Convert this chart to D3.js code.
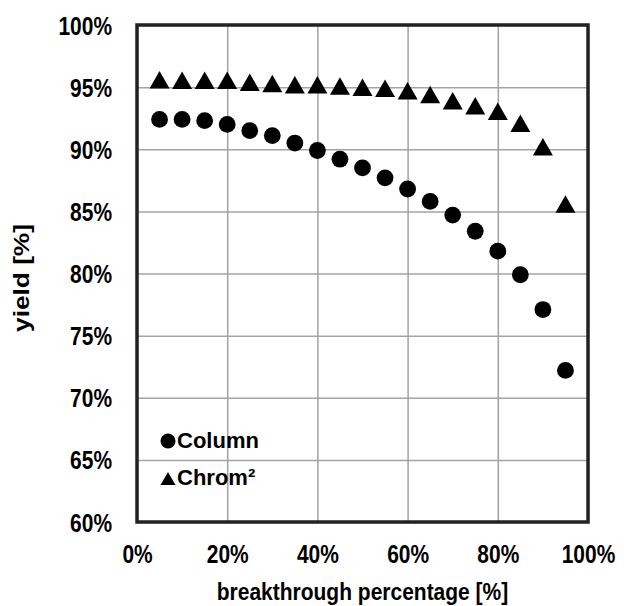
<!DOCTYPE html>
<html>
<head>
<meta charset="utf-8">
<script src="https://cdn.jsdelivr.net/npm/d3@7"></script>
<style>
  body { margin: 0; background: #fff; }
  text { font-family: 'Liberation Sans', Arial, sans-serif; font-weight: bold; fill: #000; }
</style>
</head>
<body>
<div id="chart"></div>
<script>
// breakthrough percentage [%] (x) and yield [%] for both processes
const breakthrough = [5, 10, 15, 20, 25, 30, 35, 40, 45, 50, 55, 60, 65, 70, 75, 80, 85, 90, 95];
const columnYield = [92.4, 92.4, 92.3, 92.0, 91.5, 91.1, 90.5, 89.9, 89.2, 88.5, 87.7, 86.8, 85.8, 84.7, 83.4, 81.8, 79.9, 77.1, 72.2];
const chromYield = [95.6, 95.55, 95.55, 95.55, 95.4, 95.3, 95.2, 95.2, 95.1, 95.0, 94.9, 94.7, 94.4, 93.9, 93.5, 93.05, 92.1, 90.2, 85.6];

const xTicks = [0, 20, 40, 60, 80, 100];
const yTicks = [60, 65, 70, 75, 80, 85, 90, 95, 100];
const seriesNames = ['Column', 'Chrom\u00b2'];

const W = 624, H = 606;
const margin = { top: 25, right: 36, bottom: 84, left: 137 };
const width = W - margin.left - margin.right;
const height = H - margin.top - margin.bottom;

const svg = d3.select('#chart')
  .append('svg')
  .attr('width', W)
  .attr('height', H);

const g = svg.append('g')
  .attr('transform', `translate(${margin.left},${margin.top})`);

const x = d3.scaleLinear().domain([0, 100]).range([0, width]);
const y = d3.scaleLinear().domain([60, 100]).range([height, 0]);

const narrow = 0.79; // tick labels look like a narrow bold face

// y axis + horizontal grid
const yAxis = g.append('g')
  .call(d3.axisLeft(y).tickValues(yTicks).tickFormat((d) => d + '%').tickSize(-width));
yAxis.select('.domain').remove();
yAxis.selectAll('line').attr('stroke', '#a3a3a3').attr('stroke-width', 1.5);
yAxis.selectAll('text')
  .attr('x', -25 / narrow)
  .attr('dy', '0.34em')
  .attr('font-size', 26.5)
  .attr('transform', `scale(${narrow},1)`);

// x axis + vertical grid
const xAxis = g.append('g')
  .attr('transform', `translate(0,${height})`)
  .call(d3.axisBottom(x).tickValues(xTicks).tickFormat((d) => d + '%').tickSize(-height));
xAxis.select('.domain').remove();
xAxis.selectAll('line').attr('stroke', '#a3a3a3').attr('stroke-width', 1.5);
xAxis.selectAll('text')
  .attr('y', 41)
  .attr('dy', 0)
  .attr('font-size', 26.5)
  .attr('transform', `scale(${narrow},1)`);

// plot frame
g.append('rect')
  .attr('width', width)
  .attr('height', height)
  .attr('fill', 'none')
  .attr('stroke', '#222')
  .attr('stroke-width', 3.5);

// markers
const tri = (w, h) => `M0,${-h / 2}L${w / 2},${h / 2}L${-w / 2},${h / 2}Z`;

g.selectAll('.col')
  .data(breakthrough)
  .join('circle')
  .attr('class', 'col')
  .attr('cx', (d) => x(d))
  .attr('cy', (d, i) => y(columnYield[i]))
  .attr('r', 8.4)
  .attr('fill', '#000');

g.selectAll('.chrom')
  .data(breakthrough)
  .join('path')
  .attr('class', 'chrom')
  .attr('d', tri(20, 17.5))
  .attr('transform', (d, i) => `translate(${x(d)},${y(chromYield[i])})`)
  .attr('fill', '#000');

// legend
const legend = svg.append('g').attr('transform', 'translate(168,0)');
legend.append('circle').attr('cx', 0).attr('cy', 441).attr('r', 7.5).attr('fill', '#000');
legend.append('text').attr('x', 9).attr('y', 448).attr('font-size', 22).text(seriesNames[0]);
legend.append('path').attr('d', tri(15, 13)).attr('transform', 'translate(0,478.5)').attr('fill', '#000');
legend.append('text').attr('x', 9).attr('y', 485).attr('font-size', 22).text(seriesNames[1]);

// axis titles
svg.append('text')
  .attr('transform', `translate(${margin.left + width / 2},600) scale(1,1.15)`)
  .attr('text-anchor', 'middle')
  .attr('font-size', 21)
  .text('breakthrough percentage [%]');

svg.append('text')
  .attr('transform', 'translate(29,278) rotate(-90) scale(1.22,1.05)')
  .attr('text-anchor', 'middle')
  .attr('font-size', 21.5)
  .text('yield [%]');
</script>
</body>
</html>
